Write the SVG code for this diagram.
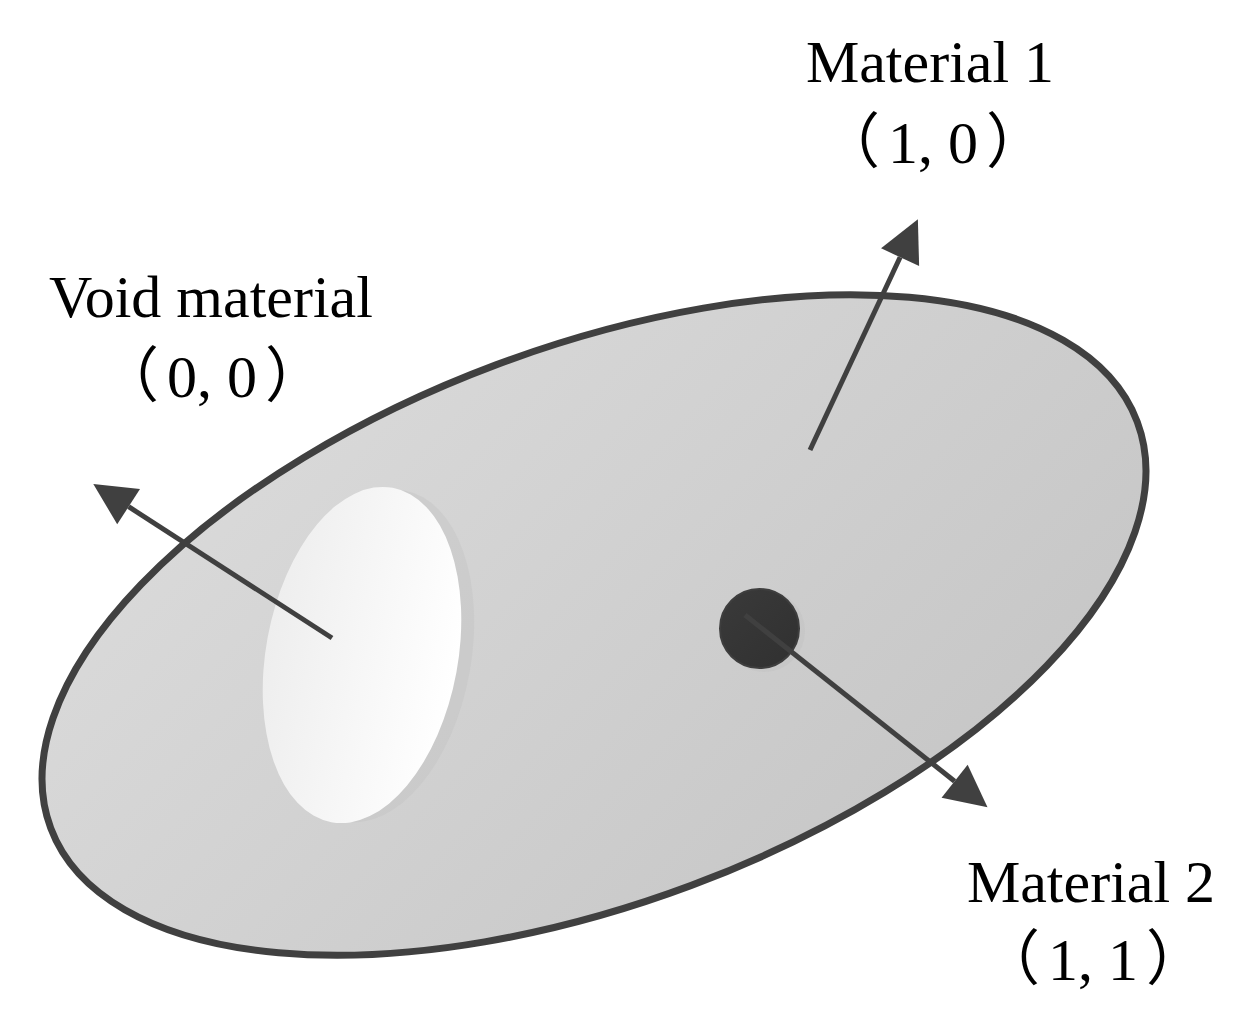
<svg xmlns="http://www.w3.org/2000/svg" width="1244" height="1029" viewBox="0 0 1244 1029">
<style>
.lbl{font-family:"Liberation Serif","Times New Roman","Noto Sans CJK SC",serif;font-size:60px;fill:#000;text-anchor:middle}
.conn{stroke:#404040;stroke-width:5;fill:none;marker-end:url(#ah)}
</style>
<defs>
<linearGradient id="gBody" x1="0" y1="0" x2="1" y2="1">
<stop offset="0" stop-color="#dcdcdc"/>
<stop offset="1" stop-color="#c4c4c4"/>
</linearGradient>
<linearGradient id="gVoid" x1="0" y1="0" x2="1" y2="0">
<stop offset="0" stop-color="#eeeeee"/>
<stop offset="1" stop-color="#ffffff"/>
</linearGradient>
<linearGradient id="gDot" x1="0" y1="0" x2="1" y2="1">
<stop offset="0" stop-color="#3a3a3a"/>
<stop offset="1" stop-color="#303030"/>
</linearGradient>
<marker id="ah" markerUnits="userSpaceOnUse" markerWidth="42" markerHeight="42" refX="0" refY="20" orient="auto" viewBox="0 0 40 40" overflow="visible">
<path d="M0,0 L40,20 L0,40 z" fill="#404040"/>
</marker>
</defs>
<rect width="1244" height="1029" fill="#ffffff"/>
<g id="body">
<ellipse cx="594" cy="625" rx="580" ry="278" transform="rotate(-20.5 594 625)" fill="url(#gBody)" stroke="#404040" stroke-width="7"/>
</g>
<g id="void">
<ellipse cx="375" cy="656" rx="96" ry="168" transform="rotate(10.4 375 656)" fill="#bdbdbd" opacity="0.3"/>
<ellipse cx="362" cy="655" rx="96" ry="170" transform="rotate(10.4 362 655)" fill="url(#gVoid)"/>
</g>
<g id="material2-dot">
<circle cx="764" cy="631" r="41" fill="#bdbdbd" opacity="0.3"/>
<circle cx="759.5" cy="628.5" r="39.5" fill="url(#gDot)" stroke="#3e3e3e" stroke-width="2"/>
</g>
<g id="connectors">
<line class="conn" x1="810" y1="450" x2="900.1" y2="257.2"/>
<line class="conn" x1="332" y1="638" x2="128.6" y2="506.7"/>
<line class="conn" x1="745" y1="615" x2="954.6" y2="781.2"/>
</g>
<g id="label-material1">
<text class="lbl" x="930" y="82">Material 1</text>
<text class="lbl" x="933" y="163"><tspan>（</tspan><tspan dx="8">1, 0</tspan><tspan dx="8">）</tspan></text>
</g>
<g id="label-void">
<text class="lbl" x="211" y="317">Void material</text>
<text class="lbl" x="212" y="397"><tspan>（</tspan><tspan dx="8">0, 0</tspan><tspan dx="8">）</tspan></text>
</g>
<g id="label-material2">
<text class="lbl" x="1091" y="902">Material 2</text>
<text class="lbl" x="1093" y="980"><tspan>（</tspan><tspan dx="8">1, 1</tspan><tspan dx="8">）</tspan></text>
</g>
</svg>
